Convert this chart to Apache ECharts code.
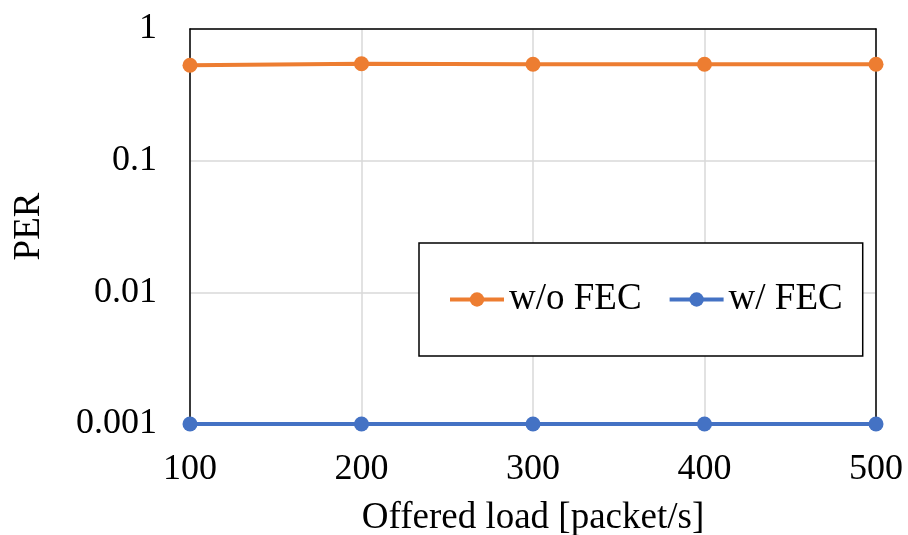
<!DOCTYPE html>
<html>
<head>
<meta charset="utf-8">
<script src="https://cdn.jsdelivr.net/npm/echarts@6/dist/echarts.min.js"></script>
<style>
  html, body { margin: 0; padding: 0; background: #fff; }
  #main { width: 908px; height: 535px; }
</style>
</head>
<body>
<div id="main"></div>
<script>
var loads = [100, 200, 300, 400, 500];
var perNoFec = [0.53, 0.545, 0.54, 0.54, 0.54];
var perFec = [0.001, 0.001, 0.001, 0.001, 0.001];
var yTicks = [0.001, 0.01, 0.1, 1];

var font = '"Liberation Serif", "Times New Roman", serif';

var chart = echarts.init(document.getElementById('main'), null, { renderer: 'canvas' });

function pairs(xs, ys) {
	return xs.map(function (x, i) { return [x, ys[i]]; });
}

var frameLine = { show: true, lineStyle: { color: '#000', width: 1.5 } };

var option = {
	animation: false,
	backgroundColor: '#fff',
	textStyle: { fontFamily: font, color: '#000' },
	grid: {
		left: 190,
		right: 32,
		top: 29,
		bottom: 111,
		outerBoundsMode: 'none',
		containLabel: false
	},
	legend: {
		left: 419,
		top: 243,
		padding: [38, 20, 38, 29],
		borderColor: '#000',
		borderWidth: 1.5,
		backgroundColor: '#fff',
		itemWidth: 54,
		itemHeight: 18,
		itemGap: 26,
		lineStyle: { width: 4 },
		textStyle: { fontFamily: font, fontSize: 37, color: '#000' },
		data: ['w/o FEC', 'w/ FEC']
	},
	xAxis: [{
		type: 'value',
		min: 100,
		max: 500,
		interval: 100,
		name: 'Offered load [packet/s]',
		nameLocation: 'middle',
		nameGap: 76,
		nameTextStyle: { fontFamily: font, fontSize: 37, color: '#000' },
		axisLine: { show: false },
		axisTick: { show: false },
		axisLabel: { fontFamily: font, fontSize: 36, color: '#000', margin: 28 },
		splitLine: { show: true, lineStyle: { color: '#d9d9d9', width: 1.5 } }
	}, {
		type: 'value',
		position: 'top',
		min: 100,
		max: 500,
		axisLine: frameLine,
		axisTick: { show: false },
		axisLabel: { show: false },
		splitLine: { show: false }
	}],
	yAxis: [{
		type: 'log',
		logBase: 10,
		min: yTicks[0],
		max: yTicks[yTicks.length - 1],
		name: 'PER',
		nameLocation: 'middle',
		nameGap: 142,
		nameTextStyle: { fontFamily: font, fontSize: 37, color: '#000' },
		axisLine: frameLine,
		axisTick: { show: false },
		axisLabel: {
			fontFamily: font, fontSize: 36, color: '#000', margin: 33,
			formatter: function (v) {
				var best = yTicks.reduce(function (a, b) {
					return Math.abs(Math.log10(b) - Math.log10(v)) < Math.abs(Math.log10(a) - Math.log10(v)) ? b : a;
				});
				return String(best);
			}
		},
		splitLine: { show: true, lineStyle: { color: '#d9d9d9', width: 1.5 } }
	}, {
		type: 'log',
		logBase: 10,
		position: 'right',
		min: yTicks[0],
		max: yTicks[yTicks.length - 1],
		axisLine: frameLine,
		axisTick: { show: false },
		axisLabel: { show: false },
		splitLine: { show: false }
	}],
	series: [{
		name: 'w/o FEC',
		type: 'line',
		data: pairs(loads, perNoFec),
		color: '#ed7d31',
		symbol: 'circle',
		symbolSize: 15,
		lineStyle: { width: 4 },
		clip: false
	}, {
		name: 'w/ FEC',
		type: 'line',
		data: pairs(loads, perFec),
		color: '#4472c4',
		symbol: 'circle',
		symbolSize: 15,
		lineStyle: { width: 4 },
		clip: false
	}]
};

chart.setOption(option);
</script>
</body>
</html>
